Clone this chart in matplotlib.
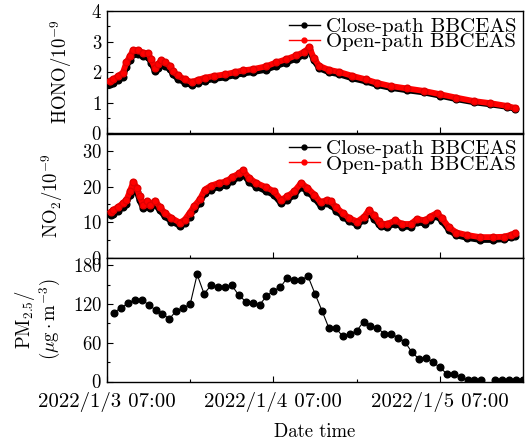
import matplotlib
matplotlib.use("Agg")
import matplotlib.pyplot as plt
import matplotlib.dates as mdates
from matplotlib.lines import Line2D
from matplotlib.ticker import MultipleLocator, FuncFormatter
import numpy as np
from datetime import datetime, timedelta

plt.rcParams['font.family'] = ['cmr10', 'DejaVu Serif']
plt.rcParams['mathtext.fontset'] = 'cm'
plt.rcParams['axes.formatter.use_mathtext'] = True
plt.rcParams['axes.unicode_minus'] = False

START = datetime(2022, 1, 3, 7, 0)

# ---- HONO (hours since start, value in 1e-9) ----
hono_hours = [0.5, 0.9, 1.6, 2.3, 2.8, 3.3, 3.8, 4.5, 5.2, 5.9, 6.4, 6.9, 7.4, 7.8,
              8.3, 9.1, 9.5, 10.2, 11.2, 12.2, 13.1, 14.1, 15.5, 17.0, 18.4, 19.6,
              21.0, 22.9, 24.4, 25.8, 27.3, 28.4, 29.2, 29.8, 30.6, 32.0, 33.5, 35.4,
              37.3, 39.0, 40.9, 43.3, 45.7, 48.1, 50.4, 52.9, 55.3, 57.7, 58.9]
hono_open = [1.70, 1.77, 1.88, 1.99, 2.32, 2.53, 2.73, 2.72, 2.64, 2.62, 2.42, 2.15,
             2.26, 2.40, 2.32, 2.21, 2.04, 1.90, 1.77, 1.68, 1.75, 1.82, 1.88, 1.93,
             2.00, 2.06, 2.10, 2.19, 2.32, 2.42, 2.55, 2.66, 2.81, 2.48, 2.21, 2.08,
             2.01, 1.88, 1.77, 1.65, 1.55, 1.47, 1.39, 1.28, 1.17, 1.06, 0.99, 0.90, 0.83]
hono_close = [1.60, 1.64, 1.76, 1.85, 2.18, 2.40, 2.58, 2.60, 2.52, 2.50, 2.30, 2.03,
              2.14, 2.28, 2.20, 2.10, 1.93, 1.79, 1.66, 1.58, 1.65, 1.72, 1.78, 1.83,
              1.90, 1.96, 2.00, 2.08, 2.20, 2.31, 2.44, 2.56, 2.72, 2.40, 2.13, 2.00,
              1.93, 1.80, 1.70, 1.58, 1.49, 1.41, 1.34, 1.23, 1.12, 1.02, 0.95, 0.87, 0.80]

# ---- NO2 (hours since start, value in 1e-9) ----
no2_hours = [0.6, 0.9, 1.6, 2.3, 2.8, 3.3, 3.8, 4.3, 4.7, 5.2, 5.7, 6.2, 6.9, 7.6,
             8.3, 9.3, 10.5, 11.2, 11.9, 12.6, 13.4, 14.1, 15.0, 16.2, 17.2, 18.1,
             19.1, 19.6, 20.5, 21.5, 22.9, 24.1, 25.1, 26.0, 27.0, 28.0, 28.9, 29.9,
             30.8, 31.7, 32.3, 33.0, 34.0, 34.9, 36.1, 37.1, 37.8, 38.5, 39.2, 39.5,
             40.4, 41.6, 42.6, 43.8, 44.7, 45.9, 46.6, 47.6, 48.3, 49.3, 50.4, 51.9,
             53.8, 55.7, 57.2, 58.2, 58.9]
no2_open = [13.0, 13.5, 14.3, 15.4, 16.3, 18.7, 21.4, 19.7, 17.3, 14.9, 15.9, 14.9,
            16.1, 14.4, 12.7, 11.2, 9.9, 10.7, 12.6, 14.6, 16.5, 19.2, 20.3, 21.1,
            21.5, 22.8, 23.8, 24.6, 22.5, 21.1, 19.9, 18.7, 16.3, 17.3, 18.7, 21.1,
            19.7, 17.8, 15.6, 16.3, 15.9, 14.3, 12.6, 11.2, 10.2, 11.6, 13.5, 11.9,
            10.3, 9.6, 9.5, 10.5, 9.5, 9.5, 10.9, 10.5, 11.6, 12.6, 11.2, 8.6, 7.1,
            6.4, 5.8, 5.8, 5.9, 6.4, 6.9]
no2_close = [12.0, 12.4, 13.2, 14.3, 15.2, 17.6, 20.3, 18.6, 16.2, 13.9, 14.8, 13.9,
             15.0, 13.4, 11.7, 10.2, 9.0, 9.8, 11.6, 13.6, 15.5, 18.2, 19.2, 20.0,
             20.4, 21.7, 22.7, 23.5, 21.4, 20.0, 18.8, 17.6, 15.3, 16.3, 17.6, 20.0,
             18.6, 16.8, 14.6, 15.3, 14.9, 13.3, 11.6, 10.3, 9.3, 10.7, 12.5, 11.0,
             9.4, 8.8, 8.7, 9.6, 8.7, 8.7, 10.0, 9.6, 10.7, 11.7, 10.3, 7.8, 6.3,
             5.6, 5.0, 5.0, 5.2, 5.7, 6.2]

# ---- PM2.5 (hourly, ug/m3) ----
pm_hours = list(range(1, 61))
pm_values = [107, 114, 121, 127, 127, 119, 111, 105, 97, 110, 114, 120, 166, 136,
             149, 146, 146, 149, 134, 124, 122, 119, 132, 141, 146, 161, 158, 158,
             163, 136, 110, 83, 83, 70, 74, 78, 93, 86, 83, 74, 74, 68, 61, 45,
             35, 37, 30, 22, 12, 12, 7, 2, 2, 2, np.nan, 2, 2, 2, 2, 2]

x_ticklabels_fmt = "{y}/{m}/{d} {hm}"
legend_labels = ["Close-path BBCEAS", "Open-path BBCEAS"]


def to_dt(hours):
    return [START + timedelta(hours=h) for h in hours]


fig = plt.figure(figsize=(5.27, 4.46), dpi=100)
L, R = 107 / 527, 523 / 527
H = 446
tops = [11, 133.5, 257.7]
bots = [133.5, 257.7, 381.5]
axes = []
for t, b in zip(tops, bots):
    axes.append(fig.add_axes([L, 1 - b / H, R - L, (b - t) / H]))

FS = 13.5
XFS = 15
LFS = 15

def style(ax):
    ax.tick_params(which='both', direction='in', top=False, right=False,
                   labelsize=FS)
    ax.tick_params(axis='x', labelsize=XFS)
    ax.tick_params(which='major', length=4, width=0.8)
    ax.tick_params(which='minor', length=2.5, width=0.8)
    for s in ax.spines.values():
        s.set_linewidth(1.0)
    ax.set_xlim(START, START + timedelta(hours=60))
    ax.xaxis.set_major_locator(mdates.HourLocator(byhour=[7]))
    ax.xaxis.set_minor_locator(mdates.HourLocator(byhour=[19]))


def draw_pair(ax, hours, close, opn):
    t = to_dt(hours)
    ax.plot(t, close, color='black', lw=4.2, marker='o', ms=4.8,
            markeredgecolor='black', solid_joinstyle='round', zorder=2)
    ax.plot(t, opn, color='#ff0000', lw=4.2, marker='o', ms=4.8,
            markeredgecolor='#e00000', solid_joinstyle='round', zorder=3)
    handles = [Line2D([], [], color='black', lw=1, marker='o', ms=3.5),
               Line2D([], [], color='#ff0000', lw=1, marker='o', ms=3.5)]
    ax.legend(handles, legend_labels, loc='upper right', frameon=False,
              fontsize=LFS, handlelength=1.5, handletextpad=0.3,
              labelspacing=-0.15, borderaxespad=0.2, borderpad=0.1)


ax1, ax2, ax3 = axes
draw_pair(ax1, hono_hours, hono_close, hono_open)
style(ax1)
ax1.set_ylim(0, 4)
ax1.yaxis.set_major_locator(MultipleLocator(1))
ax1.yaxis.set_minor_locator(MultipleLocator(0.5))
ax1.set_ylabel(r'HONO/$10^{-9}$', fontsize=FS, labelpad=12.5)
ax1.tick_params(labelbottom=False)

draw_pair(ax2, no2_hours, no2_close, no2_open)
style(ax2)
ax2.set_ylim(0, 35)
ax2.yaxis.set_major_locator(MultipleLocator(10))
ax2.yaxis.set_minor_locator(MultipleLocator(5))
ax2.set_ylabel(r'NO$_2$/$10^{-9}$', fontsize=FS, labelpad=12.5)
ax2.tick_params(labelbottom=False)

ax3.plot(to_dt(pm_hours), pm_values, color='black', lw=0.8, marker='o', ms=4.8,
         markerfacecolor='black', markeredgecolor='black')
style(ax3)
ax3.set_ylim(0, 192)
ax3.yaxis.set_major_locator(MultipleLocator(60))
ax3.yaxis.set_minor_locator(MultipleLocator(30))
ax3.set_ylabel('PM$_{2.5}$/\n' + r'$(\mu\mathrm{g}\cdot\mathrm{m}^{-3})$',
               fontsize=FS, linespacing=1.05, labelpad=7)
ax3.xaxis.set_major_formatter(FuncFormatter(
    lambda v, p: (lambda d: x_ticklabels_fmt.format(y=d.year, m=d.month, d=d.day,
                                                      hm=d.strftime('%H:%M')))(
        mdates.num2date(v))))
ax3.tick_params(axis='x', pad=7.5)
ax3.set_xlabel('Date time', fontsize=FS, labelpad=8)

fig.savefig('out.png', dpi=100)
